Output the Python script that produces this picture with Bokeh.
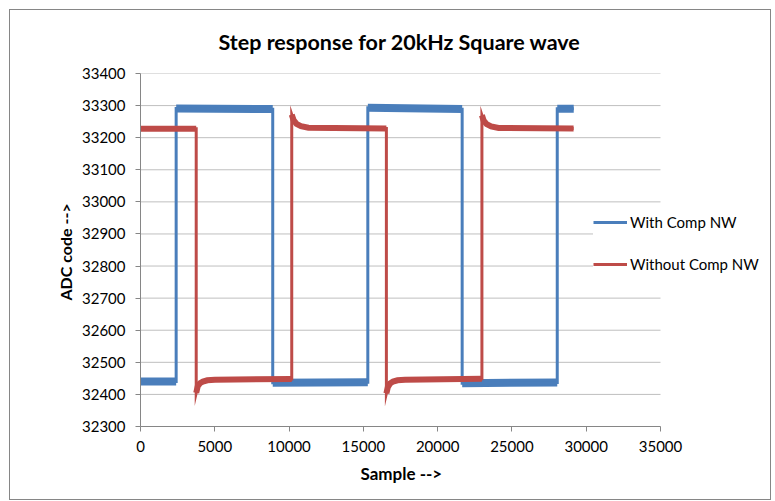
from bokeh.plotting import figure
from bokeh.models import Range1d, FixedTicker, Legend, LegendItem, Title
from bokeh.embed import file_html
from bokeh.resources import INLINE

# ---- data ----
with_x = [0, 2400, 2400, 8900, 8900, 15300, 15300, 21650, 21650, 28050, 28050, 29160]
with_y = [32440, 32440, 33291, 33289, 32436, 32438, 33293, 33289, 32435, 32437, 33290, 33290]

without_x = [0, 3750, 3750, 3850, 4000, 4200, 4500, 5000, 10180, 10180, 10300, 10500,
             10800, 11300, 16550, 16550, 16650, 16800, 17000, 17300, 17800, 22980, 22980,
             23100, 23300, 23600, 24100, 29150]
without_y = [33228, 33228, 32405, 32425, 32435, 32440, 32444, 32446, 32448, 33272, 33255, 33243,
             33236, 33231, 33229, 32403, 32423, 32434, 32440, 32444, 32446, 32449, 33270,
             33253, 33242, 33235, 33230, 33229]

x_ticks = [0, 5000, 10000, 15000, 20000, 25000, 30000, 35000]
y_ticks = [32300, 32400, 32500, 32600, 32700, 32800, 32900, 33000, 33100, 33200, 33300, 33400]

series_names = ["With Comp NW", "Without Comp NW"]
title_text = "Step response for 20kHz Square wave"
x_label = "Sample -->"
y_label = "ADC code  -->"

BLUE = "#4a7ebb"
RED = "#be4b48"
FONT = "Lato"

X_MAX = 35000
AXIS_W = 520            # pixel width of the 0..35000 axis
FRAME_W = 630           # frame continues to the right so the legend can overlap it
FRAME_H = 353


def plateaus(xs, ys, jump=300):
    """split a trace into its flat parts (drop the vertical edges)"""
    segs_x, segs_y = [[xs[0]]], [[ys[0]]]
    for i in range(1, len(xs)):
        if abs(ys[i] - ys[i - 1]) > jump:
            segs_x.append([xs[i]])
            segs_y.append([ys[i]])
        else:
            segs_x[-1].append(xs[i])
            segs_y[-1].append(ys[i])
    return segs_x, segs_y


p = figure(frame_width=FRAME_W, frame_height=FRAME_H,
           min_border_left=130, min_border_right=0, min_border_top=63, min_border_bottom=73,
           x_range=Range1d(0, X_MAX * FRAME_W / AXIS_W), y_range=Range1d(y_ticks[0], y_ticks[-1]),
           output_backend="svg", toolbar_location=None)
p.styles = {"border": "1px solid #868686", "margin-left": "9px", "margin-top": "9px"}

p.title.text = title_text
p.title.align = "left"
p.title.offset = 78
p.title.vertical_align = "top"
p.title.text_font = FONT
p.title.text_font_size = "21.5px"
p.title.text_font_style = "bold"
p.title.text_color = "#000000"
p.title.standoff = 34

p.outline_line_color = None
p.background_fill_color = "white"
p.border_fill_color = "white"

p.xaxis.ticker = FixedTicker(ticks=x_ticks)
p.xaxis.bounds = (0, X_MAX)
p.yaxis.ticker = FixedTicker(ticks=y_ticks)
p.xgrid.grid_line_color = None
p.ygrid.grid_line_color = None

# horizontal grid lines, limited to the 0..35000 axis
p.segment(x0=[0] * len(y_ticks), x1=[X_MAX] * len(y_ticks), y0=y_ticks, y1=y_ticks,
          line_color="#bfbfbf", line_width=1)

for ax in (p.xaxis[0], p.yaxis[0]):
    ax.axis_line_color = "#868686"
    ax.major_tick_line_color = "#868686"
    ax.major_tick_out = 5
    ax.major_tick_in = 0
    ax.minor_tick_line_color = None
    ax.major_label_text_font = FONT
    ax.major_label_text_font_size = "15px"
    ax.major_label_text_color = "#000000"
    ax.axis_label_text_font = FONT
    ax.axis_label_text_font_size = "16px"
    ax.axis_label_text_font_style = "bold"
    ax.axis_label_text_color = "#000000"

p.xaxis.major_label_standoff = 9
p.yaxis.axis_label = y_label
p.yaxis.major_label_standoff = 10
p.yaxis.axis_label_standoff = 4

# x-axis label as a bottom title, centred under the 0..35000 axis
xt = Title(text=x_label, align="left", offset=220, vertical_align="top", standoff=16,
           text_font=FONT, text_font_size="17px", text_font_style="bold", text_color="#000000")
p.add_layout(xt, "below")

# blue series
bx, by = plateaus(with_x, with_y)
p.multi_line(bx, by, line_color=BLUE, line_width=8, line_cap="butt", line_join="miter")
r_blue = p.line(with_x, with_y, line_color=BLUE, line_width=3, line_join="miter")
# red series (drawn on top)
rx, ry = plateaus(without_x, without_y)
p.multi_line(rx, ry, line_color=RED, line_width=6, line_cap="butt", line_join="miter")
r_red = p.line(without_x, without_y, line_color=RED, line_width=3, line_join="miter")

legend = Legend(items=[LegendItem(label=series_names[0], renderers=[r_blue]),
                       LegendItem(label=series_names[1], renderers=[r_red])],
                location=(453, 152), orientation="vertical",
                border_line_color=None, background_fill_color="white", background_fill_alpha=1.0,
                padding=10, spacing=22, glyph_width=34, glyph_height=20, label_standoff=3,
                label_text_font=FONT, label_text_font_size="15px", label_text_color="#000000")
p.add_layout(legend, "center")

open("out.html", "w").write(file_html(p, INLINE))
